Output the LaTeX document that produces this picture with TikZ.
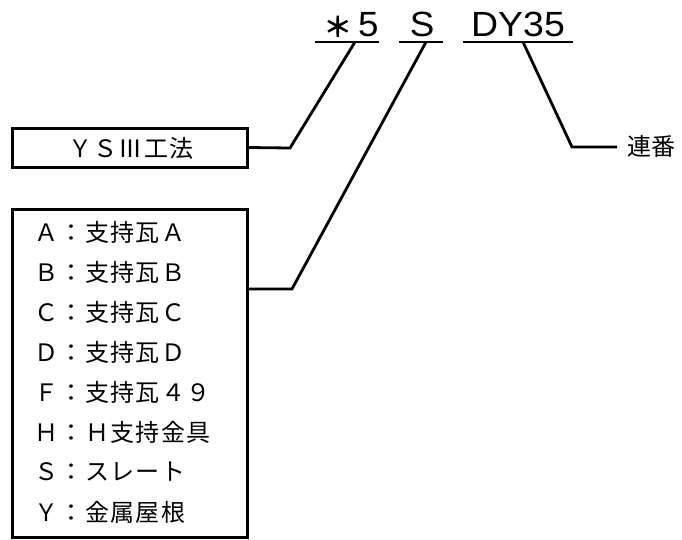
\documentclass[tikz,border=0pt]{standalone}
\usepackage{fontspec}
\setmainfont{Liberation Sans}
\newfontfamily\jp{Noto Sans CJK JP}
\newfontfamily\jpfb[FakeBold=3]{Noto Sans CJK JP}
\newfontfamily\jpls[LetterSpace=6]{Noto Sans CJK JP}
\tikzset{
  ln/.style={line width=2.8pt},
  boxst/.style={draw, line width=3pt, inner sep=0pt},
  big/.style={font=\fontsize{35}{35}\selectfont, inner sep=0pt, anchor=base},
  row/.style={font=\jpls\fontsize{24}{28}\selectfont, inner sep=0pt, anchor=west},
}
\begin{document}
\begin{tikzpicture}[x=1pt,y=-1pt]
\useasboundingbox (0,0) rectangle (682,539);
% top code
\node[big] (t1) at (351,36.5) {\scalebox{1.05}[1]{{\jpfb\fontsize{27}{27}\selectfont ＊}\,5}};
\node[big] (t2) at (422,36.5) {\scalebox{1.05}[1]{S}};
\node[big] (t3) at (518,36.5) {\scalebox{1.07}[1]{DY35}};
\coordinate (u1a) at (315,42); \coordinate (u1b) at (379,42);
\coordinate (u2a) at (399,42); \coordinate (u2b) at (443,42);
\coordinate (u3a) at (463,42); \coordinate (u3b) at (573,42);
\draw[ln] (u1a) -- (u1b);
\draw[ln] (u2a) -- (u2b);
\draw[ln] (u3a) -- (u3b);
\coordinate (p1) at (355,42);
\coordinate (p2) at (426,42);
\coordinate (p3) at (523,42);
% boxes
\node[boxst, minimum width=235pt, minimum height=39pt] (ys) at (129.5,147.5) {};
\node[row, anchor=center] (yst) at (131,148) {ＹＳⅢ工法};
\node[boxst, minimum width=235pt, minimum height=328pt] (list) at (129.5,373) {};
\foreach \t [count=\i from 0] in {Ａ：支持瓦Ａ,Ｂ：支持瓦Ｂ,Ｃ：支持瓦Ｃ,Ｄ：支持瓦Ｄ,Ｆ：支持瓦４９,Ｈ：Ｈ支持金具,Ｓ：スレート,Ｙ：金属屋根}{
  \node[row] (r\i) at (34,232+40*\i) {\t};
}
% connectors
\coordinate (k1) at (290,148);
\coordinate (k2) at (292,289);
\coordinate (k3) at (572,147);
\coordinate (e3) at (617,147);
\draw[ln] (ys.east) -- (k1) -- (p1);
\draw[ln] (list.north east |- k2) -- (k2) -- (p2);
\draw[ln] (p3) -- (k3) -- (e3);
\node[row, font=\jp\fontsize{24}{28}\selectfont] (rb) at (627,146) {連番};
\end{tikzpicture}
\end{document}
